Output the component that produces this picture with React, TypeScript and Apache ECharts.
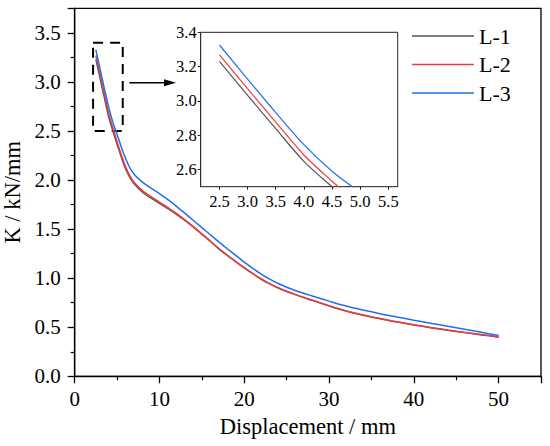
import React, { useEffect, useRef } from "react";
import * as echarts from "echarts";

// Displacement (mm) sampling points
const displacement = [
  2.5, 3, 3.5, 4, 4.5, 5, 5.5, 6, 6.5, 7, 8, 9, 10, 11, 12, 13, 14, 15, 16, 17, 18, 19, 20,
  21, 22, 23, 24, 25, 26, 27, 28, 30, 32, 34, 36, 38, 40, 42, 44, 46, 48, 50,
];

// Stiffness K (kN/mm)
const kL1 = [
  3.23, 3.033, 2.838, 2.648, 2.5, 2.365, 2.232, 2.115, 2.027, 1.962, 1.876, 1.815, 1.762,
  1.708, 1.65, 1.588, 1.52, 1.449, 1.376, 1.299, 1.231, 1.167, 1.105, 1.045, 0.989, 0.941,
  0.9, 0.864, 0.832, 0.802, 0.774, 0.717, 0.665, 0.623, 0.587, 0.553, 0.523, 0.495,
  0.469, 0.445, 0.422, 0.399,
];
const kL2 = [
  3.268, 3.072, 2.877, 2.685, 2.532, 2.39, 2.255, 2.135, 2.045, 1.978, 1.892, 1.83, 1.775,
  1.72, 1.66, 1.595, 1.525, 1.452, 1.378, 1.302, 1.234, 1.17, 1.108, 1.048, 0.992, 0.944,
  0.903, 0.867, 0.835, 0.805, 0.777, 0.72, 0.668, 0.626, 0.59, 0.556, 0.526, 0.498, 0.472,
  0.448, 0.425, 0.402,
];
const kL3 = [
  3.326, 3.127, 2.932, 2.745, 2.59, 2.465, 2.335, 2.22, 2.125, 2.06, 1.978, 1.918, 1.862,
  1.8, 1.732, 1.66, 1.588, 1.515, 1.442, 1.37, 1.3, 1.232, 1.163, 1.1, 1.042, 0.99,
  0.946, 0.908, 0.875, 0.846, 0.819, 0.766, 0.716, 0.675, 0.638, 0.605, 0.572, 0.541,
  0.51, 0.48, 0.448, 0.416,
];

const seriesNames = ["L-1", "L-2", "L-3"];
const seriesColors = ["#555555", "#f03c3c", "#1f6fee"];

// Inset (zoom) window and its tick labels
const insetXRange = [2.1667, 5.6667];
const insetYRange = [2.5, 3.4];
const insetXTicks = [2.5, 3.0, 3.5, 4.0, 4.5, 5.0, 5.5];
const insetYTicks = [2.6, 2.8, 3.0, 3.2, 3.4];

const FONT = '"Times New Roman", "Liberation Serif", serif';

export default function App() {
  const ref = useRef<HTMLDivElement>(null);

  useEffect(() => {
    if (!ref.current) return;
    const chart = echarts.init(ref.current, undefined, { renderer: "svg" });
    const allK = [kL1, kL2, kL3];
    const pairs = (ys: number[]) => displacement.map((x, i) => [x, ys[i]]);

    const mainSeries = allK.map((ys, i) => ({
      name: seriesNames[i],
      type: "line",
      xAxisIndex: 0,
      yAxisIndex: 0,
      data: pairs(ys),
      symbol: "none",
      smooth: 0.3,
      lineStyle: { color: seriesColors[i], width: 1.5 },
      itemStyle: { color: seriesColors[i] },
      z: 3 + i,
      ...(i === 0
        ? {
            markArea: {
              silent: true,
              itemStyle: {
                color: "transparent",
                borderColor: "#000",
                borderWidth: 2,
                borderType: [10, 7],
              },
              data: [
                [
                  { coord: [insetXRange[0], insetYRange[1]] },
                  { coord: [insetXRange[1], insetYRange[0]] },
                ],
              ],
            },
          }
        : {}),
    }));

    const insetSeries = allK.map((ys, i) => ({
      name: seriesNames[i],
      type: "line",
      xAxisIndex: 1,
      yAxisIndex: 1,
      data: pairs(ys),
      symbol: "none",
      smooth: 0.3,
      clip: true,
      lineStyle: { color: seriesColors[i], width: 1.2 },
      itemStyle: { color: seriesColors[i] },
      z: 10 + i,
    }));

    const axisText = { color: "#000", fontFamily: FONT };

    chart.setOption({
      animation: false,
      backgroundColor: "#fff",
      textStyle: { fontFamily: FONT },
      grid: [
        {
          left: 74.7,
          top: 8.3,
          width: 466.3,
          height: 368,
          outerBoundsMode: "none",
          containLabel: false,
          show: true,
          borderColor: "#000",
          borderWidth: 1.3,
        },
        {
          left: 200.7,
          top: 32.3,
          width: 197,
          height: 154.4,
          outerBoundsMode: "none",
          containLabel: false,
          show: true,
          backgroundColor: "#fff",
          borderColor: "#222",
          borderWidth: 1,
          z: 5,
        },
      ],
      legend: {
        data: seriesNames,
        orient: "vertical",
        left: 407,
        top: 20,
        icon: "rect",
        itemWidth: 62,
        itemHeight: 1.5,
        itemGap: 6.5,
        textStyle: { ...axisText, fontSize: 22 },
      },
      xAxis: [
        {
          type: "value",
          gridIndex: 0,
          min: 0,
          max: 55,
          interval: 10,
          name: "Displacement / mm",
          nameLocation: "middle",
          nameGap: 39,
          nameTextStyle: { ...axisText, fontSize: 22.5 },
          axisLine: { show: true, onZero: false, lineStyle: { color: "#000", width: 1.3 } },
          axisTick: { show: true, inside: false, length: 7, lineStyle: { color: "#000", width: 1.3 } },
          minorTick: { show: true, splitNumber: 2, length: 4, lineStyle: { color: "#000", width: 1.2 } },
          splitLine: { show: false },
          axisLabel: { ...axisText, fontSize: 21, margin: 12, showMaxLabel: false },
        },
        {
          type: "value",
          gridIndex: 1,
          min: insetXRange[0],
          max: insetXRange[1],
          axisLine: { show: true, onZero: false, lineStyle: { color: "#222", width: 1 } },
          axisTick: {
            show: true,
            inside: false,
            length: 3,
            customValues: insetXTicks,
            lineStyle: { color: "#222", width: 1 },
          },
          splitLine: { show: true, lineStyle: { color: "#ececec", width: 0.8 } },
          axisLabel: {
            ...axisText,
            fontSize: 16.5,
            margin: 6,
            customValues: insetXTicks,
            formatter: (v: number) => v.toFixed(1),
          },
        },
      ],
      yAxis: [
        {
          type: "value",
          gridIndex: 0,
          min: 0,
          max: 3.75,
          interval: 0.5,
          name: "K / kN/mm",
          nameLocation: "middle",
          nameGap: 45,
          nameTextStyle: { ...axisText, fontSize: 22.5 },
          axisLine: { show: true, onZero: false, lineStyle: { color: "#000", width: 1.3 } },
          axisTick: { show: true, inside: false, length: 7, lineStyle: { color: "#000", width: 1.3 } },
          minorTick: { show: true, splitNumber: 2, length: 4, lineStyle: { color: "#000", width: 1.2 } },
          splitLine: { show: false },
          axisLabel: {
            ...axisText,
            fontSize: 21,
            margin: 14,
            showMaxLabel: false,
            formatter: (v: number) => v.toFixed(1),
          },
        },
        {
          type: "value",
          gridIndex: 1,
          min: insetYRange[0],
          max: insetYRange[1],
          axisLine: { show: true, onZero: false, lineStyle: { color: "#222", width: 1 } },
          axisTick: {
            show: true,
            inside: false,
            length: 3,
            customValues: insetYTicks,
            lineStyle: { color: "#222", width: 1 },
          },
          splitLine: { show: true, lineStyle: { color: "#ececec", width: 0.8 } },
          axisLabel: {
            ...axisText,
            fontSize: 16.5,
            margin: 4,
            customValues: insetYTicks,
            formatter: (v: number) => v.toFixed(1),
          },
        },
      ],
      graphic: [
        {
          type: "line",
          shape: { x1: 129.3, y1: 82.7, x2: 168, y2: 82.7 },
          style: { stroke: "#000", lineWidth: 1.5 },
          z: 20,
        },
        {
          type: "polygon",
          shape: { points: [[176, 82.7], [164, 79.2], [164, 86.2]] },
          style: { fill: "#000" },
          z: 20,
        },
      ],
      series: [...mainSeries, ...insetSeries],
    });

    return () => chart.dispose();
  }, []);

  return (
    <div
      ref={ref}
      style={{ position: "absolute", left: 0, top: 0, width: 550, height: 446 }}
    />
  );
}
